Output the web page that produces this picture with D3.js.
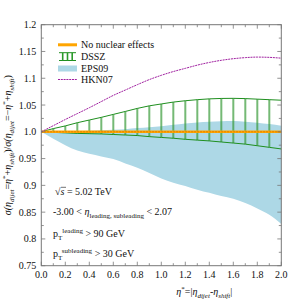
<!DOCTYPE html>
<html>
<head>
<meta charset="utf-8">
<script src="https://cdn.jsdelivr.net/npm/d3@7"></script>
<style>
  body { margin: 0; background: #fff; }
  text { font-family: "Liberation Serif", "DejaVu Serif", serif; fill: #111; }
</style>
</head>
<body>
<div id="chart"></div>
<script>
// eta* grid and model ratios
const etaStar = [0.0, 0.1, 0.2, 0.3, 0.4, 0.5, 0.6, 0.7, 0.8, 0.9, 1.0,
  1.1, 1.2, 1.3, 1.4, 1.5, 1.6, 1.7, 1.8, 1.9, 2.0];
const dsszUpper = [1.0, 1.006, 1.011, 1.017, 1.022, 1.027, 1.0325, 1.038, 1.0437, 1.0485, 1.052,
  1.0555, 1.058, 1.060, 1.0615, 1.0623, 1.0625, 1.062, 1.061, 1.060, 1.059];
const dsszLower = [1.0, 0.999, 0.998, 0.997, 0.9965, 0.996, 0.995, 0.994, 0.993, 0.991, 0.9895,
  0.988, 0.986, 0.9845, 0.983, 0.981, 0.979, 0.977, 0.974, 0.971, 0.968];
const epsUpper = [1.0, 1.0005, 1.001, 1.0015, 1.002, 1.003, 1.004, 1.005, 1.007, 1.0085, 1.0105,
  1.013, 1.0155, 1.0175, 1.019, 1.0198, 1.02, 1.019, 1.017, 1.0145, 1.0115];
const epsLower = [1.0, 0.987, 0.975, 0.965, 0.959, 0.954, 0.949, 0.941, 0.933, 0.923, 0.913,
  0.905, 0.899, 0.892, 0.886, 0.880, 0.875, 0.867, 0.857, 0.845, 0.828];
const hkn07 = [1.0, 1.0115, 1.023, 1.034, 1.045, 1.0565, 1.068, 1.078, 1.088, 1.0975, 1.1055,
  1.1125, 1.1185, 1.1245, 1.1295, 1.1335, 1.1365, 1.1385, 1.1395, 1.139, 1.1375];
const noEffect = etaStar.map(() => 1.0);
const hatchEta = [0.1, 0.2, 0.3, 0.4, 0.5, 0.6, 0.7, 0.8, 0.9, 1.0,
  1.1, 1.2, 1.3, 1.4, 1.5, 1.6, 1.7, 1.8, 1.9];

const xTicks = [0.0, 0.2, 0.4, 0.6, 0.8, 1.0, 1.2, 1.4, 1.6, 1.8, 2.0];
const yTicks = [0.75, 0.8, 0.85, 0.9, 0.95, 1.0, 1.05, 1.1, 1.15, 1.2];
const yTickLabels = ['0.75', '0.8', '0.85', '0.9', '0.95', '1.0', '1.05', '1.1', '1.15', '1.2'];

const MARGIN = { TOP: 24.7, BOTTOM: 36.3, LEFT: 41.3, RIGHT: 20.7 };
const WIDTH = 302 - MARGIN.LEFT - MARGIN.RIGHT;
const HEIGHT = 302 - MARGIN.TOP - MARGIN.BOTTOM;

const svg = d3.select('#chart')
  .append('svg')
  .attr('width', 302)
  .attr('height', 302);

const g = svg.append('g')
  .attr('transform', `translate(${MARGIN.LEFT}, ${MARGIN.TOP})`);

const x = d3.scaleLinear().domain([0, 2]).range([0, WIDTH]);
const y = d3.scaleLinear().domain([0.75, 1.2]).range([HEIGHT, 0]);

const rows = etaStar.map((e, i) => ({
  e, du: dsszUpper[i], dl: dsszLower[i], eu: epsUpper[i], el: epsLower[i], h: hkn07[i], n: noEffect[i]
}));

// EPS09 band
g.append('path')
  .datum(rows)
  .attr('fill', '#add8e6')
  .attr('d', d3.area().curve(d3.curveMonotoneX)
    .x(d => x(d.e)).y0(d => y(d.el)).y1(d => y(d.eu)));

// DSSZ hatched band
const dsszU = d3.scaleLinear().domain(etaStar).range(dsszUpper);
const dsszL = d3.scaleLinear().domain(etaStar).range(dsszLower);
g.selectAll('.hatch')
  .data(hatchEta)
  .enter().append('line')
  .attr('class', 'hatch')
  .attr('x1', d => x(d)).attr('x2', d => x(d))
  .attr('y1', d => y(dsszU(d))).attr('y2', d => y(dsszL(d)))
  .attr('stroke', '#3a9e3a')
  .attr('stroke-opacity', 0.55)
  .attr('stroke-width', 2.2);
g.selectAll('.hatch2')
  .data(hatchEta)
  .enter().append('line')
  .attr('x1', d => x(d)).attr('x2', d => x(d))
  .attr('y1', d => y(dsszU(d))).attr('y2', d => y(dsszL(d)))
  .attr('stroke', '#2a8c2a')
  .attr('stroke-opacity', 0.6)
  .attr('stroke-width', 0.6);

const edge = key => d3.line().curve(d3.curveMonotoneX).x(d => x(d.e)).y(d => y(d[key]));
['du', 'dl'].forEach(k => {
  g.append('path').datum(rows)
    .attr('fill', 'none')
    .attr('stroke', '#1f8f1f')
    .attr('stroke-width', 1)
    .attr('d', edge(k));
});

// no nuclear effects
g.append('path').datum(rows)
  .attr('fill', 'none')
  .attr('stroke', '#ffa500')
  .attr('stroke-width', 2.6)
  .attr('d', edge('n'));
g.append('path').datum(rows)
  .attr('fill', 'none')
  .attr('stroke', '#c86400')
  .attr('stroke-width', 0.7)
  .attr('stroke-dasharray', '1.5,1.5')
  .attr('d', edge('n'));

// HKN07
g.append('path').datum(rows)
  .attr('fill', 'none')
  .attr('stroke', '#a020a0')
  .attr('stroke-width', 1)
  .attr('stroke-dasharray', '2,0.8')
  .attr('d', edge('h'));

// frame and ticks (inside, all four sides)
g.append('rect')
  .attr('width', WIDTH).attr('height', HEIGHT)
  .attr('fill', 'none').attr('stroke', '#777').attr('stroke-width', 1);

const xMinor = d3.range(0, 2.0001, 0.1);
const yMinor = d3.range(0.75, 1.2001, 0.025);
const tickG = g.append('g').attr('stroke', '#777').attr('stroke-width', 0.8);
xMinor.forEach((t, i) => {
  const len = i % 2 === 0 ? 4 : 2.5;
  tickG.append('line').attr('x1', x(t)).attr('x2', x(t)).attr('y1', HEIGHT).attr('y2', HEIGHT - len);
  tickG.append('line').attr('x1', x(t)).attr('x2', x(t)).attr('y1', 0).attr('y2', len);
});
yMinor.forEach((t, i) => {
  const len = i % 2 === 0 ? 4 : 2.5;
  tickG.append('line').attr('y1', y(t)).attr('y2', y(t)).attr('x1', 0).attr('x2', len);
  tickG.append('line').attr('y1', y(t)).attr('y2', y(t)).attr('x1', WIDTH).attr('x2', WIDTH - len);
});

g.selectAll('.xlab')
  .data(xTicks)
  .enter().append('text')
  .attr('x', d => x(d))
  .attr('y', HEIGHT + 12)
  .attr('text-anchor', 'middle')
  .attr('font-size', 10)
  .text(d => d.toFixed(1));

g.selectAll('.ylab')
  .data(yTicks)
  .enter().append('text')
  .attr('x', -5)
  .attr('y', d => y(d) + 3.5)
  .attr('text-anchor', 'end')
  .attr('font-size', 10)
  .text((d, i) => yTickLabels[i]);

// rich text helper: parts [text, kind]; kinds n, it, sub (italic), subr (roman), sup
function rich(sel, parts, size) {
  let shift = 0;
  parts.forEach(([t, kind]) => {
    const ts = sel.append('tspan').text(t);
    let target = 0;
    if (kind === 'sub' || kind === 'subr') { ts.attr('font-size', size * 0.7); target = size * 0.3; }
    else if (kind === 'sup') { ts.attr('font-size', size * 0.7); target = -size * 0.4; }
    else { ts.attr('font-size', size); }
    if (kind === 'it' || kind === 'sub') ts.attr('font-style', 'italic');
    if (target !== shift) { ts.attr('dy', target - shift); shift = target; }
  });
}

// axis titles
const xt = svg.append('text')
  .attr('x', MARGIN.LEFT + WIDTH / 2 + 43)
  .attr('y', 295)
  .attr('text-anchor', 'middle');
rich(xt, [['η', 'it'], ['*', 'sup'], ['=|', 'n'], ['η', 'it'], ['dijet', 'sub'], ['-', 'n'],
  ['η', 'it'], ['shift', 'sub'], ['|', 'n']], 10);

const yt = svg.append('text')
  .attr('transform', `translate(11, ${MARGIN.TOP + HEIGHT / 2}) rotate(-90)`)
  .attr('text-anchor', 'middle');
rich(yt, [['σ(', 'it'], ['η', 'it'], ['dijet', 'sub'], ['=', 'n'], ['η', 'it'], ['*', 'sup'],
  ['+', 'n'], ['η', 'it'], ['shift', 'sub'], [')/', 'n'], ['σ(', 'it'], ['η', 'it'], ['dijet', 'sub'],
  ['=−', 'n'], ['η', 'it'], ['*', 'sup'], ['+', 'n'], ['η', 'it'], ['shift', 'sub'], [')', 'n']], 10);

// legend
const leg = svg.append('g');
leg.append('rect').attr('x', 58).attr('y', 43.3).attr('width', 19).attr('height', 3).attr('fill', '#ffa500');
leg.append('line').attr('x1', 59).attr('x2', 76).attr('y1', 52.7).attr('y2', 52.7).attr('stroke', '#1f8f1f');
leg.append('line').attr('x1', 59).attr('x2', 76).attr('y1', 60.5).attr('y2', 60.5).attr('stroke', '#1f8f1f');
[62.7, 67.5, 72.2].forEach(px => {
  leg.append('line').attr('x1', px).attr('x2', px).attr('y1', 52.7).attr('y2', 60.5)
    .attr('stroke', '#2a9a2a').attr('stroke-width', 1.6);
});
leg.append('rect').attr('x', 58).attr('y', 65.5).attr('width', 19).attr('height', 6).attr('fill', '#add8e6');
leg.append('line').attr('x1', 58).attr('x2', 77).attr('y1', 79.5).attr('y2', 79.5)
  .attr('stroke', '#a020a0').attr('stroke-dasharray', '2,0.8');
const legNames = ['No nuclear effects', 'DSSZ', 'EPS09', 'HKN07'];
const legY = [48.2, 60, 72, 83];
legNames.forEach((t, i) => {
  leg.append('text').attr('x', 81).attr('y', legY[i]).attr('font-size', 10).text(t);
});

// annotations
const a1 = svg.append('text').attr('x', 55).attr('y', 195);
rich(a1, [['√', 'n'], ['s', 'it'], [' = 5.02 TeV', 'n']], 10);
svg.append('line').attr('x1', 61).attr('x2', 66).attr('y1', 187.3).attr('y2', 187.3)
  .attr('stroke', '#111').attr('stroke-width', 0.6);
const a2 = svg.append('text').attr('x', 53).attr('y', 215);
rich(a2, [['-3.00 < ', 'n'], ['η', 'it'], ['leading, subleading', 'subr'], [' < 2.07', 'n']], 10);
const a3 = svg.append('text').attr('x', 53).attr('y', 237);
rich(a3, [['p', 'n'], ['T', 'subr'], ['leading', 'sup'], [' > 90 GeV', 'n']], 10);
const a4 = svg.append('text').attr('x', 53).attr('y', 257);
rich(a4, [['p', 'n'], ['T', 'subr'], ['subleading', 'sup'], [' > 30 GeV', 'n']], 10);
</script>
</body>
</html>
